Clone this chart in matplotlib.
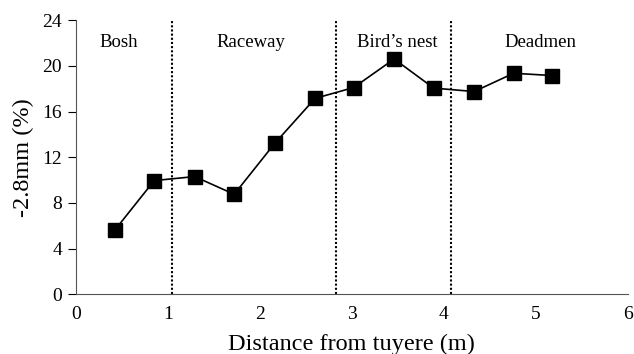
import matplotlib
matplotlib.use("Agg")
import matplotlib.pyplot as plt

distance = [0.42, 0.85, 1.29, 1.72, 2.16, 2.60, 3.02, 3.46, 3.89, 4.33, 4.76, 5.18]
fines = [5.6, 9.95, 10.3, 8.75, 13.2, 17.15, 18.1, 20.6, 18.05, 17.75, 19.35, 19.15]
boundaries = [1.04, 2.83, 4.08]
regions = ["Bosh", "Raceway", "Bird\u2019s nest", "Deadmen"]
region_x = [0.46, 1.90, 3.49, 5.05]
yticks = [0, 4, 8, 12, 16, 20, 24]
xticks = [0, 1, 2, 3, 4, 5, 6]

plt.rcParams['font.family'] = ['Liberation Serif', 'DejaVu Serif']

fig = plt.figure(figsize=(6.34, 3.54), dpi=100)
ax = fig.add_axes([0.12, 0.169, 0.87, 0.774])

ax.plot(distance, fines, color='black', lw=1.2, marker='s', markersize=9.5,
        markerfacecolor='black', markeredgecolor='black', zorder=3)
for b in boundaries:
    ax.axvline(b, color='black', lw=1.5, ls=(0, (1, 1)), zorder=2)
for name, x in zip(regions, region_x):
    ax.text(x, 22.05, name, ha='center', va='center', fontsize=13.5)

ax.set_xlim(0, 6)
ax.set_ylim(0, 24)
ax.set_xticks(xticks)
ax.set_yticks(yticks)
ax.tick_params(axis='x', length=0, labelsize=14, pad=8.5)
ax.tick_params(axis='y', length=6, direction='out', labelsize=14, pad=4)
ax.spines['top'].set_visible(False)
ax.spines['right'].set_visible(False)
ax.spines['left'].set_color('#555555')
ax.spines['bottom'].set_color('#555555')
ax.set_xlabel('Distance from tuyere (m)', fontsize=17.5, labelpad=8)
ax.set_ylabel('-2.8mm (%)', fontsize=17.5, labelpad=6)

fig.savefig('out.png', dpi=100)
